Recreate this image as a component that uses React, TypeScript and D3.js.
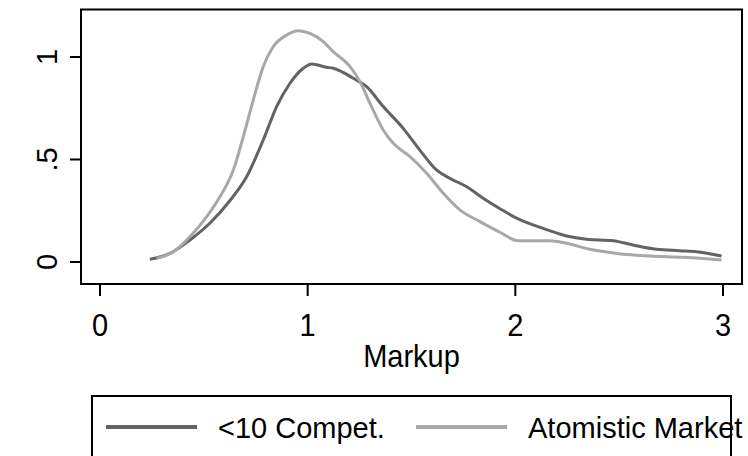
import React, {useEffect, useRef} from 'react';
import * as d3 from 'd3';

// <10 competitors
const fewX = [0.24, 0.337, 0.433, 0.53, 0.626, 0.706, 0.786, 0.85, 0.915, 0.979, 1.019, 1.09, 1.123, 1.22, 1.284, 1.364, 1.46, 1.54, 1.62, 1.685, 1.766, 1.845, 1.926, 2.014, 2.134, 2.247, 2.343, 2.471, 2.567, 2.68, 2.792, 2.873, 2.993];
const fewY = [0.013, 0.042, 0.107, 0.19, 0.30, 0.416, 0.595, 0.757, 0.872, 0.945, 0.966, 0.95, 0.945, 0.896, 0.855, 0.758, 0.652, 0.546, 0.449, 0.408, 0.367, 0.311, 0.26, 0.21, 0.164, 0.127, 0.111, 0.104, 0.083, 0.062, 0.055, 0.05, 0.029];

// atomistic market
const atomX = [0.273, 0.353, 0.433, 0.514, 0.578, 0.642, 0.69, 0.738, 0.786, 0.834, 0.899, 0.955, 1.011, 1.075, 1.123, 1.204, 1.252, 1.3, 1.364, 1.412, 1.493, 1.573, 1.653, 1.733, 1.83, 1.926, 2.014, 2.167, 2.247, 2.359, 2.488, 2.648, 2.808, 2.888, 2.993];
const atomY = [0.018, 0.05, 0.123, 0.221, 0.319, 0.449, 0.611, 0.79, 0.953, 1.05, 1.107, 1.128, 1.115, 1.075, 1.026, 0.953, 0.88, 0.774, 0.644, 0.579, 0.514, 0.433, 0.335, 0.254, 0.197, 0.145, 0.104, 0.104, 0.091, 0.062, 0.042, 0.029, 0.023, 0.018, 0.01];

const xTicks = [0, 1, 2, 3];
const xTickLabels = ['0', '1', '2', '3'];
const yTicks = [0, 0.5, 1];
const yTickLabels = ['0', '.5', '1'];
const seriesNames = ['<10 Compet.', 'Atomistic Market'];
const seriesColors = ['#636363', '#a8a8a8'];

export default function App() {
    const ref = useRef<SVGSVGElement>(null);

    useEffect(() => {
        const W = 748, H = 456;
        const box = {left: 81, right: 742, top: 9.5, bottom: 284};
        const font = '"Liberation Sans", Arial, sans-serif';

        const x = d3.scaleLinear().domain([0, 3]).range([100, 723]);
        const y = d3.scaleLinear().domain([0, 1]).range([262, 57]);

        const svg = d3.select(ref.current);
        svg.selectAll('*').remove();
        svg.attr('width', W).attr('height', H);

        svg.append('rect')
            .attr('width', W).attr('height', H).attr('fill', '#fff');

        // plot frame
        svg.append('rect')
            .attr('x', box.left)
            .attr('y', box.top)
            .attr('width', box.right - box.left)
            .attr('height', box.bottom - box.top)
            .attr('fill', 'none')
            .attr('stroke', '#000')
            .attr('stroke-width', 2);

        // x axis
        svg.selectAll('.xt')
            .data(xTicks)
            .enter()
            .append('line')
            .attr('x1', d => x(d)).attr('x2', d => x(d))
            .attr('y1', box.bottom).attr('y2', box.bottom + 12)
            .attr('stroke', '#000').attr('stroke-width', 2);

        // labels are a little taller than plain Arial
        svg.selectAll('.xl')
            .data(xTicks)
            .enter()
            .append('text')
            .attr('transform', d => `translate(${x(d)},336) scale(1,1.08)`)
            .attr('text-anchor', 'middle')
            .attr('font-family', font)
            .attr('font-size', 29)
            .text((d, i) => xTickLabels[i]);

        svg.append('text')
            .attr('transform', `translate(${(box.left + box.right) / 2},367) scale(1,1.1)`)
            .attr('text-anchor', 'middle')
            .attr('font-family', font)
            .attr('font-size', 29)
            .text('Markup');

        // y axis
        svg.selectAll('.yt')
            .data(yTicks)
            .enter()
            .append('line')
            .attr('x1', box.left - 11).attr('x2', box.left)
            .attr('y1', d => y(d)).attr('y2', d => y(d))
            .attr('stroke', '#000').attr('stroke-width', 2);

        svg.selectAll('.yl')
            .data(yTicks)
            .enter()
            .append('text')
            .attr('transform', d => `translate(57,${y(d)}) rotate(-90)`)
            .attr('text-anchor', 'middle')
            .attr('font-family', font)
            .attr('font-size', 29)
            .text((d, i) => yTickLabels[i]);

        // density curves
        const line = d3.line<[number, number]>()
            .x(d => x(d[0]))
            .y(d => y(d[1]))
            .curve(d3.curveMonotoneX);

        const series = [
            d3.zip(fewX, fewY) as [number, number][],
            d3.zip(atomX, atomY) as [number, number][]
        ];

        svg.selectAll('.curve')
            .data(series)
            .enter()
            .append('path')
            .attr('d', d => line(d))
            .attr('fill', 'none')
            .attr('stroke', (d, i) => seriesColors[i])
            .attr('stroke-width', 3)
            .attr('stroke-linejoin', 'round');

        // legend
        svg.append('rect')
            .attr('x', 92).attr('y', 396)
            .attr('width', 731 - 92).attr('height', 100)
            .attr('fill', 'none')
            .attr('stroke', '#000')
            .attr('stroke-width', 2);

        const legendX = [106, 416];
        seriesNames.forEach((name, i) => {
            svg.append('line')
                .attr('x1', legendX[i]).attr('x2', legendX[i] + 91)
                .attr('y1', 427).attr('y2', 427)
                .attr('stroke', seriesColors[i])
                .attr('stroke-width', 4);
            svg.append('text')
                .attr('x', legendX[i] + 112)
                .attr('y', 438)
                .attr('font-family', font)
                .attr('font-size', 29)
                .text(name);
        });
    }, []);

    return <svg ref={ref} style={{position: 'absolute', left: 0, top: 0, display: 'block'}} />;
}
